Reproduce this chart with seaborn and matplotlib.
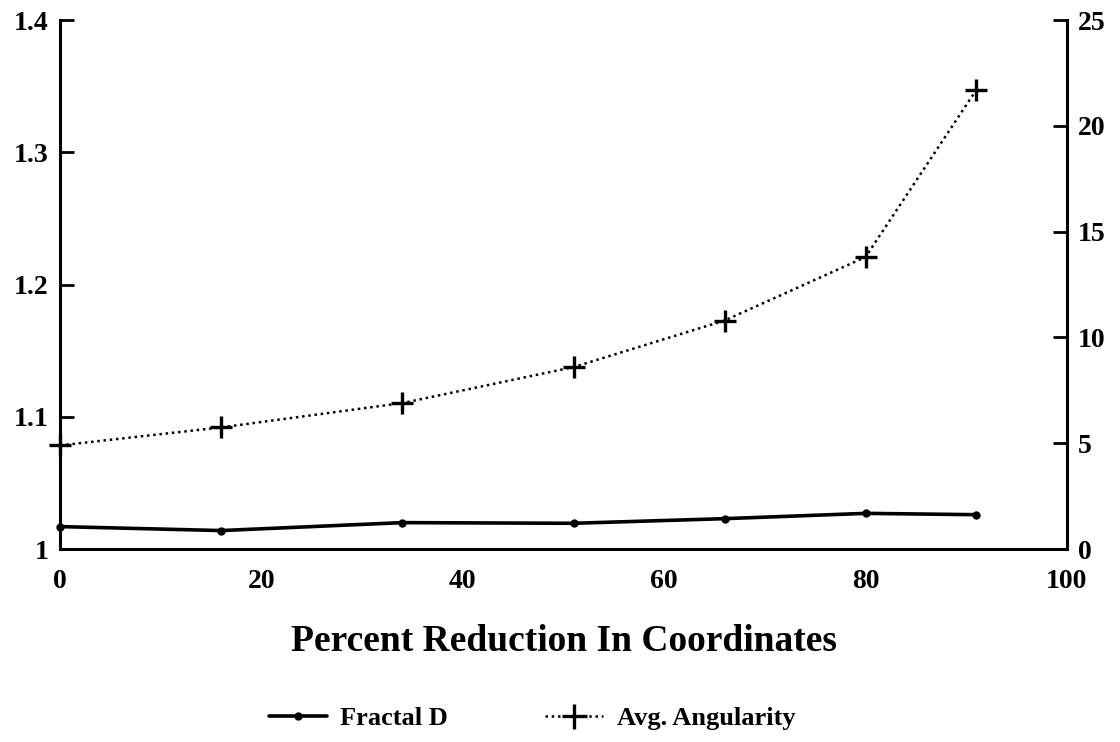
import matplotlib
matplotlib.use("Agg")
import matplotlib.pyplot as plt
import seaborn as sns
import pandas as pd
from matplotlib.lines import Line2D
from matplotlib.ticker import FuncFormatter

# Percent reduction in coordinates and the two measures
reduction = [0, 16, 34, 51, 66, 80, 91]
fractal_d = [1.017, 1.014, 1.020, 1.0195, 1.023, 1.027, 1.026]
angularity = [4.9, 5.75, 6.9, 8.6, 10.8, 13.8, 21.7]

left_ticks = [1.0, 1.1, 1.2, 1.3, 1.4]
right_ticks = [0, 5, 10, 15, 20, 25]
x_ticks = [0, 20, 40, 60, 80, 100]

sns.set_theme(style="white")
plt.rcParams["font.family"] = ["Liberation Serif", "DejaVu Serif"]
plt.rcParams["font.weight"] = "bold"

df = pd.DataFrame({"x": reduction, "fd": fractal_d, "ang": angularity})

fig = plt.figure(figsize=(11.2, 7.42), dpi=100)
ax = fig.add_axes([0.0536, 0.26, 0.899, 0.713])
ax2 = ax.twinx()

sns.lineplot(data=df, x="x", y="fd", ax=ax, color="black", linewidth=2.6,
             marker="o", markersize=6, markeredgewidth=0,
             markeredgecolor="black", clip_on=False)
sns.lineplot(data=df, x="x", y="ang", ax=ax2, color="black", linewidth=1.8,
             linestyle=(0, (1, 1.5)), marker="+", markersize=16,
             markeredgewidth=2.4, markeredgecolor="black", clip_on=False)

ax.set_xlim(0, 100)
ax.set_ylim(1.0, 1.4)
ax2.set_ylim(0, 25)
ax.set_xticks(x_ticks)
ax.set_yticks(left_ticks)
ax2.set_yticks(right_ticks)
ax.yaxis.set_major_formatter(FuncFormatter(lambda v, p: "1" if abs(v - 1) < 1e-9 else f"{v:.1f}"))

for a in (ax, ax2):
    a.set_facecolor("none")
    a.spines["top"].set_visible(False)
    for s in ("left", "right", "bottom"):
        a.spines[s].set_color("black")
        a.spines[s].set_linewidth(2.2)
    a.set_ylabel("")

ax.spines["right"].set_visible(False)
ax2.spines["left"].set_visible(False)
ax2.spines["bottom"].set_visible(False)

ax.tick_params(axis="both", direction="in", length=10, width=2.0, color="black",
               labelsize=20, labelcolor="black")
ax.tick_params(axis="x", pad=14)
ax.tick_params(axis="y", pad=8)
ax2.tick_params(axis="y", direction="in", length=10, width=2.0, color="black",
                labelsize=20, labelcolor="black", pad=8)
for lab in ax.get_xticklabels() + ax.get_yticklabels() + ax2.get_yticklabels():
    lab.set_fontweight("bold")

ax.set_xlabel("Percent Reduction In Coordinates", fontsize=27, fontweight="bold",
              color="black", labelpad=22)

handles = [
    Line2D([], [], color="black", linewidth=2.6, marker="o", markersize=6,
           markeredgewidth=0),
    Line2D([], [], color="black", linewidth=1.8, linestyle=(0, (1, 1.5)),
           marker="+", markersize=18, markeredgewidth=2.4),
]
fig.legend(handles, ["Fractal D", "Avg. Angularity"], loc="center",
           bbox_to_anchor=(0.475, 0.032), ncol=2, frameon=False,
           prop={"size": 19, "weight": "bold"}, labelcolor="black",
           handlelength=2.2, columnspacing=3.7, handletextpad=0.5)

fig.savefig("out.png", dpi=100, facecolor="white")
